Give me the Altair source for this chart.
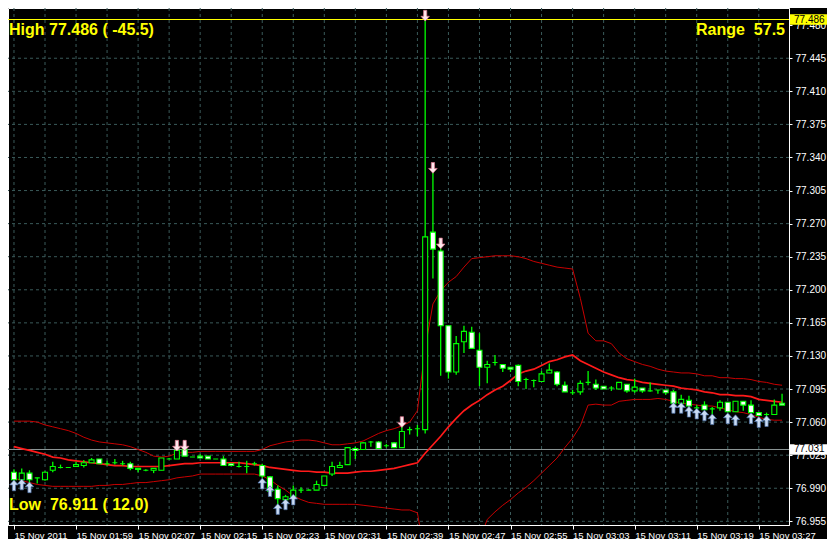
import altair as alt
import pandas as pd

# ---------------- data (1-minute bars) ----------------
bar_index = list(range(100))

open_price = [
    77.007, 76.999, 77.006, 77.001, 76.999, 77.009, 77.012, 77.012, 77.013, 77.014,
    77.017, 77.021, 77.016, 77.017, 77.016, 77.016, 77.011, 77.009, 77.009, 77.009,
    77.021, 77.021, 77.031, 77.023, 77.024, 77.024, 77.021, 77.021, 77.016, 77.013,
    77.013, 77.016, 77.014, 77.002, 76.989, 76.978, 76.981, 76.988, 76.988, 76.988,
    76.993, 77.005, 77.012, 77.015, 77.032, 77.031, 77.039, 77.039, 77.035, 77.038,
    77.033, 77.052, 77.053, 77.052, 77.261, 77.241, 77.162, 77.113, 77.145, 77.155,
    77.136, 77.118, 77.123, 77.121, 77.118, 77.120, 77.105, 77.104, 77.103, 77.112,
    77.113, 77.099, 77.091, 77.092, 77.102, 77.100, 77.098, 77.096, 77.095, 77.100,
    77.093, 77.096, 77.093, 77.094, 77.094, 77.092, 77.080, 77.083, 77.075, 77.078,
    77.074, 77.075, 77.081, 77.071, 77.082, 77.078, 77.070, 77.068, 77.068, 77.080,
]
high_price = [
    77.010, 77.011, 77.009, 77.001, 77.008, 77.018, 77.015, 77.012, 77.018, 77.020,
    77.022, 77.021, 77.019, 77.021, 77.019, 77.018, 77.011, 77.010, 77.011, 77.022,
    77.022, 77.032, 77.034, 77.023, 77.026, 77.024, 77.021, 77.024, 77.016, 77.018,
    77.019, 77.018, 77.016, 77.003, 76.993, 76.983, 76.993, 76.991, 76.989, 76.998,
    77.003, 77.018, 77.018, 77.033, 77.034, 77.039, 77.040, 77.040, 77.037, 77.039,
    77.057, 77.055, 77.057, 77.486, 77.325, 77.245, 77.162, 77.151, 77.162, 77.161,
    77.154, 77.125, 77.131, 77.121, 77.118, 77.121, 77.107, 77.105, 77.114, 77.122,
    77.114, 77.103, 77.094, 77.104, 77.114, 77.105, 77.098, 77.098, 77.102, 77.100,
    77.106, 77.096, 77.102, 77.094, 77.094, 77.094, 77.089, 77.088, 77.078, 77.082,
    77.076, 77.083, 77.081, 77.082, 77.082, 77.083, 77.070, 77.070, 77.084, 77.090,
]
low_price = [
    76.994, 76.996, 76.995, 76.995, 76.998, 77.007, 77.011, 77.012, 77.013, 77.012,
    77.017, 77.016, 77.014, 77.015, 77.014, 77.009, 77.007, 77.008, 77.006, 77.009,
    77.021, 77.021, 77.024, 77.023, 77.022, 77.021, 77.021, 77.014, 77.014, 77.012,
    77.006, 77.014, 77.001, 76.987, 76.972, 76.975, 76.980, 76.985, 76.988, 76.988,
    76.992, 77.003, 77.012, 77.015, 77.021, 77.031, 77.034, 77.032, 77.033, 77.033,
    77.033, 77.047, 77.045, 77.048, 77.212, 77.109, 77.106, 77.110, 77.133, 77.138,
    77.098, 77.101, 77.120, 77.113, 77.113, 77.098, 77.095, 77.097, 77.103, 77.112,
    77.098, 77.092, 77.089, 77.089, 77.099, 77.094, 77.095, 77.093, 77.095, 77.091,
    77.091, 77.091, 77.092, 77.090, 77.089, 77.080, 77.080, 77.075, 77.073, 77.073,
    77.068, 77.072, 77.071, 77.071, 77.072, 77.070, 77.067, 77.060, 77.068, 77.078,
]
close_price = [
    76.999, 77.006, 76.999, 77.001, 77.007, 77.013, 77.012, 77.012, 77.015, 77.017,
    77.020, 77.016, 77.016, 77.017, 77.016, 77.011, 77.010, 77.009, 77.011, 77.022,
    77.021, 77.030, 77.024, 77.023, 77.022, 77.021, 77.021, 77.014, 77.014, 77.013,
    77.013, 77.016, 77.003, 76.987, 76.979, 76.981, 76.988, 76.988, 76.988, 76.994,
    77.003, 77.013, 77.014, 77.033, 77.030, 77.038, 77.039, 77.032, 77.035, 77.033,
    77.050, 77.052, 77.053, 77.256, 77.243, 77.162, 77.113, 77.143, 77.156, 77.138,
    77.118, 77.121, 77.123, 77.117, 77.116, 77.103, 77.105, 77.104, 77.111, 77.115,
    77.100, 77.092, 77.091, 77.101, 77.102, 77.096, 77.095, 77.096, 77.102, 77.093,
    77.097, 77.093, 77.093, 77.094, 77.091, 77.080, 77.084, 77.077, 77.075, 77.073,
    77.074, 77.081, 77.071, 77.082, 77.078, 77.070, 77.067, 77.068, 77.078, 77.078,
]

bb_upper = [
    77.061, 77.061, 77.061, 77.060, 77.057, 77.055, 77.053, 77.051, 77.048, 77.044,
    77.041, 77.039, 77.038, 77.037, 77.036, 77.034, 77.031, 77.028, 77.024, 77.023,
    77.024, 77.027, 77.028, 77.028, 77.029, 77.029, 77.029, 77.029, 77.029, 77.029,
    77.029, 77.029, 77.031, 77.035, 77.037, 77.039, 77.040, 77.041, 77.041, 77.040,
    77.038, 77.036, 77.036, 77.037, 77.038, 77.040, 77.044, 77.048, 77.051, 77.053,
    77.056, 77.060, 77.072, 77.138, 77.185, 77.199, 77.208, 77.214, 77.224, 77.233,
    77.234, 77.235, 77.236, 77.236, 77.236, 77.235, 77.233, 77.230, 77.228, 77.226,
    77.224, 77.223, 77.222, 77.191, 77.154, 77.146, 77.146, 77.143, 77.133, 77.127,
    77.124, 77.121, 77.119, 77.116, 77.114, 77.113, 77.112, 77.112, 77.111, 77.109,
    77.109, 77.107, 77.107, 77.106, 77.106, 77.105, 77.103, 77.102, 77.100, 77.099,
]
bb_middle = [
    77.034, 77.032, 77.030, 77.028, 77.026, 77.023, 77.022, 77.020, 77.019, 77.018,
    77.017, 77.016, 77.015, 77.014, 77.014, 77.013, 77.013, 77.013, 77.013, 77.013,
    77.014, 77.015, 77.016, 77.016, 77.017, 77.017, 77.017, 77.017, 77.017, 77.017,
    77.016, 77.015, 77.014, 77.012, 77.011, 77.010, 77.009, 77.008, 77.008, 77.007,
    77.007, 77.006, 77.006, 77.006, 77.007, 77.008, 77.008, 77.009, 77.010, 77.011,
    77.013, 77.015, 77.017, 77.027, 77.036, 77.045, 77.055, 77.064, 77.072, 77.078,
    77.083, 77.089, 77.094, 77.098, 77.104, 77.111, 77.114, 77.116, 77.120, 77.124,
    77.126, 77.129, 77.131, 77.125, 77.121, 77.117, 77.113, 77.110, 77.107, 77.105,
    77.104, 77.102, 77.101, 77.100, 77.099, 77.098, 77.096, 77.095, 77.094, 77.092,
    77.091, 77.089, 77.089, 77.088, 77.088, 77.087, 77.084, 77.083, 77.082, 77.081,
]
bb_lower = [
    77.001, 76.998, 76.996, 76.994, 76.993, 76.992, 76.992, 76.992, 76.992, 76.992,
    76.992, 76.993, 76.993, 76.994, 76.994, 76.995, 76.996, 76.996, 76.997, 76.998,
    76.999, 77.001, 77.002, 77.003, 77.005, 77.005, 77.005, 77.005, 77.005, 77.005,
    77.005, 77.005, 77.003, 76.999, 76.993, 76.988, 76.982, 76.978, 76.975, 76.974,
    76.973, 76.973, 76.973, 76.973, 76.973, 76.972, 76.971, 76.970, 76.969, 76.968,
    76.967, 76.967, 76.964, 76.916, 76.887, 76.891, 76.902, 76.914, 76.920, 76.923,
    76.935, 76.957, 76.965, 76.972, 76.978, 76.985, 76.991, 76.998, 77.006, 77.014,
    77.022, 77.033, 77.043, 77.056, 77.078, 77.079, 77.078, 77.078, 77.082, 77.083,
    77.084, 77.084, 77.084, 77.085, 77.084, 77.082, 77.080, 77.079, 77.078, 77.077,
    77.077, 77.075, 77.073, 77.071, 77.070, 77.068, 77.065, 77.063, 77.062, 77.062,
]

up_arrow_bars = [0, 1, 2, 32, 33, 34, 35, 36, 85, 86, 87, 88, 89, 90, 92, 93, 95, 96, 97]
up_arrow_prices = [76.993, 76.994, 76.991, 76.995, 76.987, 76.968, 76.973, 76.978,
                   77.075, 77.075, 77.071, 77.069, 77.067, 77.063, 77.064, 77.062,
                   77.064, 77.060, 77.061]
down_arrow_bars = [21, 22, 50, 53, 54, 55]
down_arrow_prices = [77.035, 77.035, 77.060, 77.490, 77.329, 77.249]

x_tick_bars = [0, 8, 16, 24, 32, 40, 48, 56, 64, 72, 80, 88, 96]
x_tick_labels = ["15 Nov 2011", "15 Nov 01:59", "15 Nov 02:07", "15 Nov 02:15",
                 "15 Nov 02:23", "15 Nov 02:31", "15 Nov 02:39", "15 Nov 02:47",
                 "15 Nov 02:55", "15 Nov 03:03", "15 Nov 03:11", "15 Nov 03:19",
                 "15 Nov 03:27"]
y_tick_values = [76.955, 76.990, 77.025, 77.060, 77.095, 77.130, 77.165, 77.200,
                 77.235, 77.270, 77.305, 77.340, 77.375, 77.410, 77.445, 77.480]
grid_prices = [76.955, 76.990, 77.025, 77.060, 77.095, 77.130, 77.165, 77.200,
               77.235, 77.270, 77.305, 77.340, 77.375, 77.410, 77.445]
grid_bars = list(range(0, 100, 4))

day_high = [77.486]
bid_price = [77.031]
high_text = ["High 77.486 ( -45.5)"]
range_text = ["Range\u00a0 57.5"]
low_text = ["Low\u00a0 76.911 ( 12.0)"]

# ---------------- styling ----------------
GREEN = "#00FF00"
GRID = "#3A5A5A"
FONT = "Liberation Sans"
UP_PATH = "M0,-1L0.8,-0.1L0.3,-0.1L0.3,1L-0.3,1L-0.3,-0.1L-0.8,-0.1Z"
DOWN_PATH = "M0,1L0.8,0.1L0.3,0.1L0.3,-1L-0.3,-1L-0.3,0.1L-0.8,0.1Z"
BOX_PATH = "M-1,-0.29L1,-0.29L1,0.29L-1,0.29Z"

PLOT_W, PLOT_H = 781, 517

candles = pd.DataFrame({
    "i": bar_index, "open": open_price, "high": high_price, "low": low_price,
    "close": close_price, "upper": bb_upper, "middle": bb_middle, "lower": bb_lower,
})
candles["dir"] = ["bull" if c > o else "bear" for o, c in zip(open_price, close_price)]

XS = alt.Scale(domain=[-0.125, 99.25], nice=False, zero=False)
YS = alt.Scale(domain=[76.95111, 77.49817], nice=False, zero=False)

label_expr = "[" + ",".join("'%s'" % s for s in x_tick_labels) + "][round(datum.value / 8)]"

X_AXIS = alt.Axis(values=x_tick_bars, labelExpr=label_expr, orient="bottom",
                  labelAlign="left", labelBaseline="top", labelFlush=False,
                  labelOverlap=False, labelPadding=1, labelColor="white",
                  labelFont=FONT, labelFontSize=9.5, tickColor="white", tickSize=4,
                  domainColor="white", grid=False, title=None)
Y_AXIS = alt.Axis(values=y_tick_values, format=".3f", orient="right",
                  labelColor="white", labelFont=FONT, labelFontSize=10,
                  labelPadding=3, tickColor="white", tickSize=3, domainColor="white",
                  grid=False, title=None, labelOverlap=False, labelFlush=False)


def xq(field="i"):
    return alt.X(f"{field}:Q", scale=XS, axis=X_AXIS)


def yq(field):
    return alt.Y(f"{field}:Q", scale=YS, axis=Y_AXIS)


grid_h = alt.Chart(pd.DataFrame({"p": grid_prices})).mark_rule(
    color=GRID, strokeDash=[3, 3], strokeWidth=1).encode(y=yq("p"))
grid_v = alt.Chart(pd.DataFrame({"i": grid_bars})).mark_rule(
    color=GRID, strokeDash=[3, 3], strokeWidth=1).encode(x=xq("i"))

bid_line = alt.Chart(pd.DataFrame({"p": bid_price})).mark_rule(
    color="#8C9696", strokeWidth=1).encode(y=yq("p"))
high_line = alt.Chart(pd.DataFrame({"p": day_high})).mark_rule(
    color="#FFFF00", strokeWidth=1).encode(y=yq("p"))

base = alt.Chart(candles)
upper = base.mark_line(color="#C80000", strokeWidth=1, clip=True).encode(x=xq(), y=yq("upper"))
middle = base.mark_line(color="#FF1A1A", strokeWidth=1.7, clip=True).encode(x=xq(), y=yq("middle"))
lower = base.mark_line(color="#C80000", strokeWidth=1, clip=True).encode(x=xq(), y=yq("lower"))

wicks = base.mark_rule(color=GREEN, strokeWidth=1.3).encode(
    x=xq(), y=yq("low"), y2="high")
bodies = base.mark_bar(size=5, stroke=GREEN, strokeWidth=1.1).encode(
    x=xq(), y=yq("open"), y2="close",
    color=alt.Color("dir:N", scale=alt.Scale(domain=["bull", "bear"],
                                             range=["#000000", "#FFFFFF"]), legend=None))

up_arrows = alt.Chart(pd.DataFrame({"i": up_arrow_bars, "p": up_arrow_prices})).mark_point(
    shape=UP_PATH, size=115, filled=True, fill="#CADBF3", stroke="#4C70A8",
    strokeWidth=0.7, opacity=1).encode(x=xq(), y=yq("p"))
down_arrows = alt.Chart(pd.DataFrame({"i": down_arrow_bars, "p": down_arrow_prices})).mark_point(
    shape=DOWN_PATH, size=115, filled=True, fill="#FFE6EC", stroke="#E07890",
    strokeWidth=0.7, opacity=1).encode(x=xq(), y=yq("p"))


def big_text(values, x, y, align):
    return alt.Chart(pd.DataFrame({"t": values})).mark_text(
        align=align, baseline="alphabetic", font=FONT, fontSize=16,
        fontWeight="bold", color="#FFFF00").encode(
        x=alt.value(x), y=alt.value(y), text="t:N")


t_high = big_text(high_text, 1, 27, "left")
t_range = big_text(range_text, PLOT_W - 4, 27, "right")
t_low = big_text(low_text, 1, 502, "left")

box_high = alt.Chart(pd.DataFrame({"p": day_high})).mark_point(
    shape=BOX_PATH, size=1369, filled=True, fill="#FFFF00", opacity=1,
    strokeWidth=0).encode(x=alt.value(PLOT_W + 19.5), y=yq("p"))
box_bid = alt.Chart(pd.DataFrame({"p": bid_price})).mark_point(
    shape=BOX_PATH, size=1369, filled=True, fill="#FFFFFF", opacity=1,
    strokeWidth=0).encode(x=alt.value(PLOT_W + 19.5), y=yq("p"))
box_text = alt.Chart(pd.DataFrame({"p": day_high + bid_price})).mark_text(
    align="left", baseline="middle", font=FONT, fontSize=10, color="black").encode(
    x=alt.value(PLOT_W + 5), y=yq("p"), text=alt.Text("p:Q", format=".3f"))

chart = alt.layer(
    grid_h, grid_v, bid_line, high_line, upper, middle, lower, wicks, bodies,
    up_arrows, down_arrows, t_high, t_range, t_low, box_high, box_bid, box_text,
).properties(
    width=PLOT_W, height=PLOT_H, background="black",
    autosize=alt.AutoSizeParams(type="none"),
    padding={"left": 0, "top": 0, "right": 38, "bottom": 14},
).configure_view(stroke="white", strokeWidth=1, fill="black")

chart.save("out.html", embed_options={"renderer": "svg", "actions": False})
